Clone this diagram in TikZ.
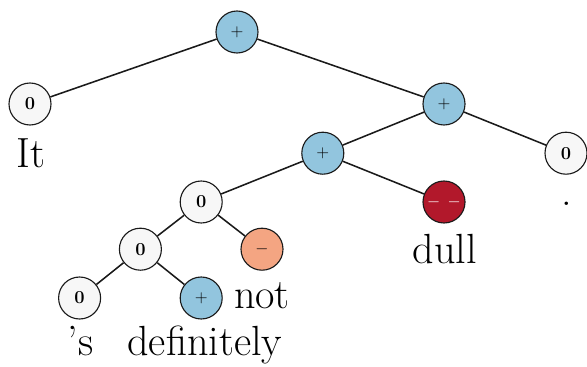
\documentclass[tikz,border=0pt]{standalone}
\usepackage{amsmath,amssymb}
\usepackage{tikz}
\usetikzlibrary{arrows.meta}
\usepackage{xcolor}
\definecolor{ink}{HTML}{1A1A1A}
\definecolor{neu1}{HTML}{F7F7F7}
\definecolor{pos1}{HTML}{92C5DE}
\definecolor{neg1}{HTML}{F4A582}
\definecolor{neg2}{HTML}{B2182B}

\begin{document}
\begin{tikzpicture}[x=1cm,y=1cm,
  tnode/.style={circle,draw=ink,line width=0.8pt,minimum size=1.05cm,inner sep=0pt,font=\fontsize{13}{15}\selectfont\bfseries},
  word/.style={anchor=base,inner sep=0pt,font=\fontsize{30}{36}\selectfont},
  edge/.style={ink,line width=1.1pt}]
  \useasboundingbox (0,0) rectangle (14.675,9.15);
  % sentiment tree, root at top
  \node[tnode,fill=pos1] (root) at (5.925,8.35) {$+$};
  \node[tnode,fill=neu1] (it) at (0.75,6.55) {0};
  \node[tnode,fill=pos1] (vp) at (11.1,6.55) {$+$};
  \node[tnode,fill=pos1] (adjp) at (8.07,5.32) {$+$};
  \node[tnode,fill=neu1] (dot) at (14.15,5.32) {0};
  \node[tnode,fill=neu1] (advp) at (5.03,4.1) {0};
  \node[tnode,fill=neg2,text=white] (dull) at (11.1,4.1) {$-$\hspace{0.4em}$-$};
  \node[tnode,fill=neu1] (sdef) at (3.51,2.92) {0};
  \node[tnode,fill=neg1] (not) at (6.55,2.92) {$-$};
  \node[tnode,fill=neu1] (s) at (1.99,1.7) {0};
  \node[tnode,fill=pos1] (def) at (5.03,1.7) {$+$};
  \draw[edge] (root) -- (it); \draw[edge] (root) -- (vp);
  \draw[edge] (vp) -- (adjp); \draw[edge] (vp) -- (dot);
  \draw[edge] (adjp) -- (advp); \draw[edge] (adjp) -- (dull);
  \draw[edge] (advp) -- (sdef); \draw[edge] (advp) -- (not);
  \draw[edge] (sdef) -- (s); \draw[edge] (sdef) -- (def);
  % words under the leaves
  \node[word] (wit) at (0.78,4.97) {It};
  \node[word] (wdot) at (14.17,4.01) {.};
  \node[word] (wdull) at (11.12,2.57) {dull};
  \node[word] (wnot) at (6.55,1.44) {not};
  \node[word] (ws) at (2.01,0.275) {'s};
  \node[word] (wdef) at (5.12,0.275) {definitely};
\end{tikzpicture}
\end{document}
